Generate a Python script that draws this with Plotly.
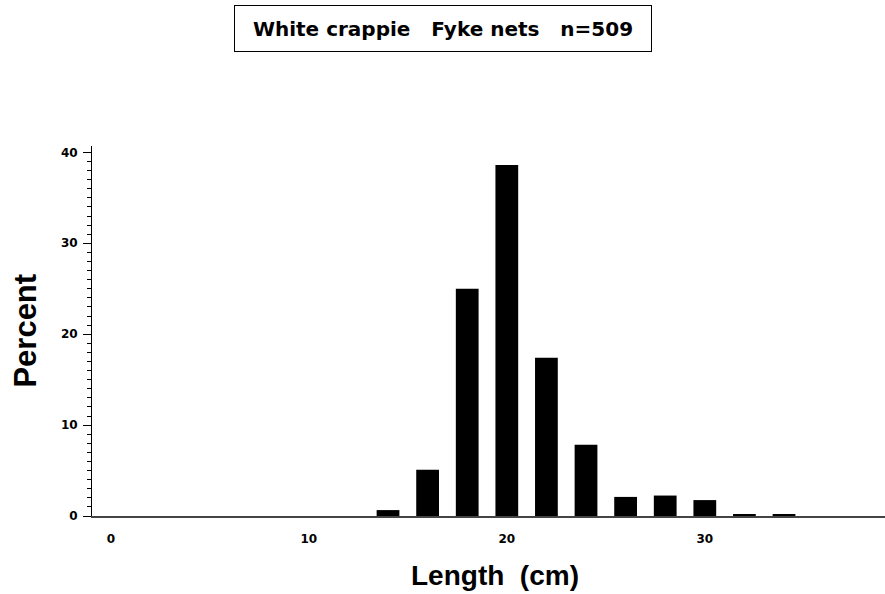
import plotly.graph_objects as go

lengths = [14, 16, 18, 20, 22, 24, 26, 28, 30, 32, 34]
percent = [0.65, 5.1, 25.0, 38.6, 17.4, 7.85, 2.1, 2.25, 1.75, 0.15, 0.15]
x_ticks = [0, 10, 20, 30]
y_ticks = [0, 10, 20, 30, 40]
title_text = "White crappie &nbsp; Fyke nets &nbsp; n=509"
x_title = "Length &nbsp;(cm)"
y_title = "Percent"

BOLD = "DejaVu Sans, Liberation Sans, Arial, sans-serif"
ARIAL = "Liberation Sans, Arial, sans-serif"

fig = go.Figure()
fig.add_trace(go.Bar(
    x=lengths, y=percent, width=1.15,
    marker=dict(color="black", line=dict(width=0)),
))

fig.update_layout(
    width=885, height=594,
    margin=dict(l=92, r=0, t=146, b=78),
    paper_bgcolor="white", plot_bgcolor="white",
    showlegend=False,
    font=dict(family=ARIAL, color="black"),
    annotations=[
        dict(
            text="<b>" + title_text + "</b>",
            xref="paper", yref="paper", x=0.4426, y=1.3176,
            xanchor="center", yanchor="middle", showarrow=False,
            font=dict(size=20, color="black", family=BOLD),
            bordercolor="black", borderwidth=1, borderpad=0,
            width=416, height=45, bgcolor="white",
        ),
        dict(
            text="<b>" + x_title + "</b>",
            xref="paper", yref="paper", x=0.508, y=-0.16,
            xanchor="center", yanchor="middle", showarrow=False,
            font=dict(size=28, color="black", family=ARIAL),
        ),
        dict(
            text="<b>" + y_title + "</b>",
            xref="paper", yref="paper", x=-0.085, y=0.5,
            xanchor="center", yanchor="middle", showarrow=False,
            textangle=-90,
            font=dict(size=31, color="black", family=ARIAL),
        ),
    ],
)

fig.update_xaxes(
    range=[-0.95, 39.1], tickvals=x_ticks,
    ticks="", showgrid=False, zeroline=False, automargin=False,
    showline=True, linecolor="#444", linewidth=1.5,
    tickfont=dict(size=12, family=BOLD, color="black", weight="bold"),
    ticklabelstandoff=11,
)
fig.update_yaxes(
    range=[0, 40.7], tickvals=y_ticks,
    ticks="outside", ticklen=8, tickwidth=1, tickcolor="black",
    minor=dict(dtick=1, ticks="outside", ticklen=4, tickcolor="black", tickwidth=1, showgrid=False),
    showgrid=False, zeroline=False, automargin=False,
    showline=True, linecolor="black", linewidth=1,
    tickfont=dict(size=12, family=BOLD, color="black", weight="bold"),
    ticklabelstandoff=3,
)

fig.write_html(
    "out.html",
    config={"displayModeBar": False},
    post_script="document.body.style.margin='0';document.body.style.overflow='hidden';",
)
